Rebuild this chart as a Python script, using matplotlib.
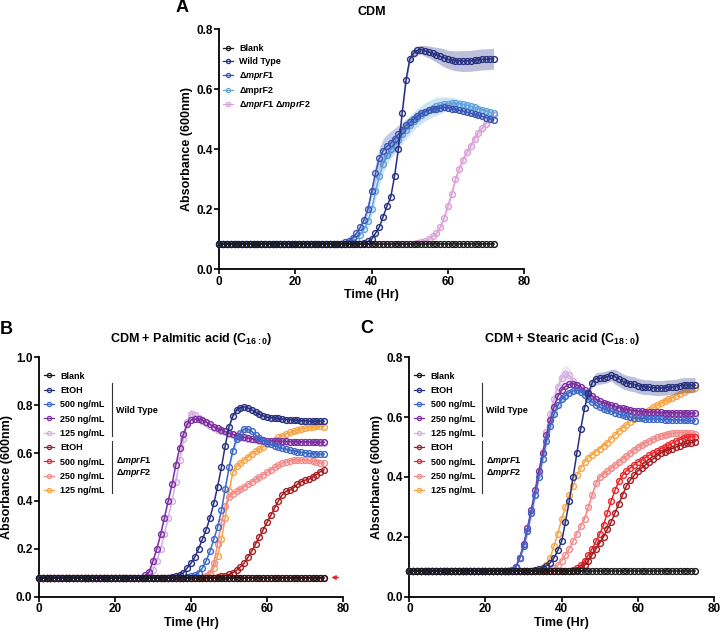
import matplotlib
matplotlib.use("Agg")
import matplotlib.pyplot as plt
from matplotlib.lines import Line2D

plt.rcParams["font.family"] = "Liberation Sans"
plt.rcParams["font.weight"] = "bold"
plt.rcParams["axes.labelweight"] = "bold"
plt.rcParams["axes.titleweight"] = "bold"
plt.rcParams["mathtext.fontset"] = "custom"
plt.rcParams["mathtext.rm"] = "Liberation Sans:bold"
plt.rcParams["mathtext.bf"] = "Liberation Sans:bold"
plt.rcParams["mathtext.it"] = "Liberation Sans:italic:bold"

# ---- data (hourly readings, absorbance at 600 nm) ----

TIME_A = list(range(0, 73))
TIME_BC = list(range(0, 76))

# panel A: CDM
A_LABELS = ["Blank", "Wild Type", "Δ$\\mathit{mprF1}$", "ΔmprF2",
            "Δ$\\mathit{mprF1}$ Δ$\\mathit{mprF2}$"]
A_COLORS = ["#1a1a1a", "#27317f", "#3a55b4", "#5fa3dd", "#d9a1d6"]

A_BLANK = [0.085] * 73
A_WT = [0.085] * 38 + [
    0.088, 0.093, 0.10, 0.12, 0.14, 0.175, 0.21, 0.24, 0.31, 0.40,
    0.52, 0.63, 0.70, 0.72, 0.73, 0.732, 0.728, 0.725, 0.72, 0.715,
    0.71, 0.705, 0.70, 0.697, 0.695, 0.695, 0.694, 0.695, 0.695, 0.697,
    0.698, 0.70, 0.70, 0.701, 0.702]
A_F1 = [0.085] * 33 + [
    0.09, 0.095, 0.105, 0.12, 0.14, 0.165, 0.2, 0.26, 0.32, 0.37,
    0.395, 0.41, 0.42, 0.435, 0.45, 0.465, 0.48, 0.49, 0.50, 0.51,
    0.52, 0.525, 0.53, 0.533, 0.536, 0.538, 0.54, 0.538, 0.536, 0.533,
    0.53, 0.527, 0.524, 0.52, 0.517, 0.513, 0.51, 0.506, 0.502, 0.498]
A_F2 = [0.085] * 35 + [
    0.09, 0.1, 0.115, 0.135, 0.16, 0.2, 0.26, 0.31, 0.35, 0.38,
    0.40, 0.415, 0.43, 0.45, 0.465, 0.48, 0.495, 0.505, 0.515, 0.525,
    0.532, 0.538, 0.543, 0.547, 0.55, 0.552, 0.553, 0.553, 0.552, 0.55,
    0.547, 0.543, 0.54, 0.536, 0.532, 0.528, 0.524, 0.52]
A_DKO = [0.085] * 52 + [
    0.087, 0.09, 0.095, 0.10, 0.11, 0.12, 0.14, 0.17, 0.21, 0.25,
    0.30, 0.335, 0.365, 0.39, 0.41, 0.435, 0.455, 0.47, 0.485, 0.50,
    0.515]

A_BLANK_ERR = [0.0] * 73
A_WT_ERR = [0.0] * 47 + [
    0.005, 0.01, 0.015, 0.015, 0.015, 0.015, 0.015, 0.018, 0.02, 0.022,
    0.025, 0.028, 0.03, 0.03, 0.032, 0.033, 0.034] + [0.035] * 9
A_F1_ERR = [0.003] * 38 + [
    0.01, 0.015, 0.02, 0.03, 0.035, 0.04, 0.04, 0.04, 0.035, 0.03,
    0.025, 0.02, 0.02, 0.015, 0.015, 0.012, 0.01, 0.01, 0.01, 0.01] + [0.008] * 15
A_F2_ERR = [0.003] * 38 + [
    0.01, 0.015, 0.02, 0.025, 0.03, 0.03, 0.03, 0.03, 0.03, 0.03] + [0.03] * 10 + [
    0.028, 0.025, 0.022, 0.02, 0.018, 0.015, 0.012, 0.01, 0.01, 0.01] + [0.008] * 5
A_DKO_ERR = [0.0] * 55 + [0.005, 0.005, 0.008, 0.01, 0.012] + [0.015] * 13

# panels B and C share legend
BC_LABELS = ["Blank", "EtOH", "500 ng/mL", "250 ng/mL", "125 ng/mL",
             "EtOH", "500 ng/mL", "250 ng/mL", "125 ng/mL"]
BC_COLORS = ["#1a1a1a", "#27317f", "#3d68c6", "#7b2f9e", "#d2aee2",
             "#a61e22", "#e8262b", "#f28a8a", "#f7a445"]

# panel B: CDM + palmitic acid
B_BLANK = [0.08] * 76
B_WT_ETOH = [0.08] * 35 + [
    0.083, 0.087, 0.092, 0.10, 0.12, 0.14, 0.165, 0.2, 0.24, 0.28,
    0.33, 0.39, 0.46, 0.54, 0.63, 0.71, 0.755, 0.78, 0.79, 0.793,
    0.788, 0.78, 0.77, 0.762, 0.755, 0.75, 0.748, 0.745, 0.745, 0.742,
    0.74, 0.74, 0.738, 0.737, 0.735, 0.735, 0.733, 0.733, 0.732, 0.733,
    0.733]
B_WT_500 = [0.08] * 39 + [
    0.083, 0.086, 0.09, 0.1, 0.12, 0.15, 0.19, 0.24, 0.29,
    0.36, 0.45, 0.54, 0.61, 0.66, 0.685, 0.70, 0.70, 0.69, 0.675,
    0.662, 0.652, 0.643, 0.636, 0.63, 0.624, 0.62, 0.616, 0.612, 0.609,
    0.606, 0.603, 0.601, 0.599, 0.598, 0.597, 0.596, 0.595]
B_WT_250 = [0.08] * 28 + [
    0.09, 0.105, 0.15, 0.2, 0.26, 0.33, 0.40, 0.47, 0.55, 0.62,
    0.68, 0.72, 0.738, 0.742, 0.742, 0.738, 0.73, 0.72, 0.71, 0.703,
    0.697, 0.69, 0.684, 0.678, 0.673, 0.669, 0.666, 0.663, 0.66, 0.657,
    0.655, 0.653, 0.652, 0.651, 0.65, 0.65, 0.649, 0.649, 0.648, 0.648,
    0.647, 0.647, 0.647, 0.646, 0.646, 0.646, 0.645, 0.645]
B_WT_125 = [0.08] * 29 + [
    0.09, 0.11, 0.15, 0.2, 0.26, 0.33, 0.40, 0.48, 0.57, 0.66,
    0.73, 0.765, 0.76, 0.748, 0.735, 0.725, 0.715, 0.705, 0.698, 0.692,
    0.686, 0.68, 0.675, 0.67, 0.666, 0.663, 0.66, 0.657, 0.654, 0.652,
    0.651, 0.65, 0.649, 0.648, 0.648, 0.647, 0.647, 0.646, 0.646, 0.645,
    0.645, 0.645, 0.644, 0.644, 0.644, 0.643, 0.643]
B_MUT_ETOH = [0.08] * 47 + [
    0.082, 0.085, 0.088, 0.093, 0.1, 0.11, 0.125, 0.14, 0.165, 0.19,
    0.22, 0.25, 0.28, 0.31, 0.34, 0.37, 0.4, 0.425, 0.44, 0.445,
    0.455, 0.47, 0.48, 0.487, 0.49, 0.5, 0.51, 0.522, 0.53]
B_MUT_500 = [0.08] * 76
B_MUT_250 = [0.08] * 44 + [
    0.085, 0.1, 0.14, 0.22, 0.31, 0.38, 0.415, 0.43, 0.44, 0.45,
    0.46, 0.47, 0.48, 0.49, 0.5, 0.51, 0.52, 0.53, 0.54, 0.55,
    0.558, 0.564, 0.568, 0.571, 0.572, 0.572, 0.571, 0.569, 0.566, 0.563,
    0.56, 0.557]
B_MUT_125 = [0.08] * 44 + [
    0.085, 0.095, 0.12, 0.17, 0.24, 0.33, 0.44, 0.52, 0.545, 0.56,
    0.572, 0.585, 0.597, 0.607, 0.617, 0.627, 0.637, 0.647, 0.656, 0.665,
    0.673, 0.68, 0.686, 0.691, 0.696, 0.7, 0.705, 0.709, 0.71, 0.712,
    0.712, 0.71]

B_ERR = [
    [0.0] * 76,
    [0.0] * 50 + [0.008] * 5 + [0.012] * 21,
    [0.0] * 50 + [0.01, 0.015, 0.015, 0.015, 0.012, 0.01] + [0.006] * 20,
    [0.003] * 76,
    [0.0] * 36 + [0.01, 0.015, 0.02, 0.025, 0.025, 0.02, 0.015, 0.01] + [0.005] * 32,
    [0.0] * 76,
    [0.0] * 76,
    [0.0] * 50 + [0.008] * 26,
    [0.0] * 50 + [0.008] * 26,
]

# panel C: CDM + stearic acid
C_BLANK = [0.085] * 76
C_WT_ETOH = [0.085] * 33 + [
    0.088, 0.092, 0.097, 0.103, 0.113, 0.13, 0.155, 0.185, 0.25, 0.32,
    0.40, 0.48, 0.56, 0.63, 0.68, 0.715, 0.728, 0.73, 0.732, 0.735,
    0.74, 0.735, 0.728, 0.72, 0.715, 0.712, 0.71, 0.705, 0.702, 0.70,
    0.70, 0.698, 0.697, 0.697, 0.698, 0.70, 0.70, 0.702, 0.705, 0.707,
    0.707, 0.707, 0.707]
C_WT_500 = [0.085] * 27 + [
    0.09, 0.1, 0.13, 0.17, 0.22, 0.28, 0.34, 0.40, 0.46, 0.52,
    0.57, 0.61, 0.64, 0.66, 0.672, 0.682, 0.688, 0.69, 0.685, 0.675,
    0.66, 0.65, 0.64, 0.633, 0.628, 0.624, 0.62, 0.615, 0.61, 0.606,
    0.603, 0.60, 0.598, 0.597, 0.596, 0.595, 0.594, 0.594, 0.593, 0.593,
    0.592, 0.592, 0.591, 0.591, 0.59, 0.59, 0.589, 0.589, 0.588]
C_WT_250 = [0.085] * 27 + [
    0.09, 0.1, 0.13, 0.175, 0.23, 0.29, 0.355, 0.42, 0.48, 0.54,
    0.59, 0.635, 0.67, 0.69, 0.703, 0.71, 0.712, 0.708, 0.70, 0.69,
    0.68, 0.67, 0.66, 0.653, 0.648, 0.644, 0.64, 0.636, 0.632, 0.629,
    0.626, 0.624, 0.622, 0.62, 0.619, 0.618, 0.617, 0.617, 0.616, 0.616,
    0.615, 0.615, 0.615, 0.614, 0.614, 0.614, 0.613, 0.613, 0.613]
C_WT_125 = [0.085] * 27 + [
    0.09, 0.1, 0.13, 0.17, 0.22, 0.28, 0.34, 0.41, 0.48, 0.55,
    0.61, 0.66, 0.70, 0.73, 0.745, 0.74, 0.72, 0.705, 0.695, 0.685,
    0.675, 0.665, 0.655, 0.648, 0.643, 0.639, 0.635, 0.631, 0.627, 0.624,
    0.621, 0.619, 0.617, 0.615, 0.614, 0.613, 0.612, 0.612, 0.611, 0.611,
    0.61, 0.61, 0.61, 0.609, 0.609, 0.609, 0.608, 0.608, 0.608]
C_MUT_ETOH = [0.085] * 43 + [
    0.087, 0.09, 0.095, 0.105, 0.12, 0.14, 0.16, 0.18, 0.2, 0.225,
    0.25, 0.28, 0.31, 0.34, 0.37, 0.39, 0.405, 0.42, 0.43, 0.44,
    0.45, 0.46, 0.47, 0.48, 0.485, 0.49, 0.495, 0.5, 0.505, 0.51,
    0.512, 0.515, 0.518]
C_MUT_500 = [0.085] * 42 + [
    0.087, 0.09, 0.095, 0.105, 0.12, 0.14, 0.16, 0.185, 0.21, 0.24,
    0.28, 0.32, 0.355, 0.385, 0.405, 0.42, 0.43, 0.44, 0.45, 0.457,
    0.465, 0.473, 0.48, 0.487, 0.495, 0.5, 0.507, 0.513, 0.52, 0.525,
    0.53, 0.533, 0.535, 0.535]
C_MUT_250 = [0.085] * 37 + [
    0.088, 0.095, 0.105, 0.12, 0.14, 0.16, 0.185, 0.21, 0.235, 0.26,
    0.3, 0.34, 0.38, 0.40, 0.41, 0.42, 0.43, 0.44, 0.45, 0.46,
    0.47, 0.48, 0.49, 0.5, 0.507, 0.514, 0.52, 0.526, 0.532, 0.537,
    0.541, 0.544, 0.546, 0.547, 0.547, 0.547, 0.546, 0.546, 0.545]
C_MUT_125 = [0.085] * 34 + [
    0.088, 0.093, 0.105, 0.13, 0.17, 0.21, 0.26, 0.3, 0.34, 0.37,
    0.405, 0.43, 0.45, 0.465, 0.475, 0.485, 0.495, 0.505, 0.515, 0.528,
    0.54, 0.553, 0.565, 0.575, 0.585, 0.595, 0.603, 0.61, 0.618, 0.625,
    0.633, 0.64, 0.647, 0.655, 0.66, 0.665, 0.672, 0.678, 0.684, 0.69,
    0.695, 0.698]

C_ERR = [
    [0.0] * 76,
    [0.0] * 47 + [0.01, 0.015, 0.02, 0.02, 0.02, 0.02, 0.02] + [0.025] * 22,
    [0.0] * 30 + [0.015] * 12 + [0.01] * 6 + [0.005] * 28,
    [0.003] * 76,
    [0.0] * 30 + [0.02] * 6 + [0.025, 0.03, 0.03, 0.03, 0.03, 0.03, 0.025, 0.02] + [0.005] * 32,
    [0.0] * 76,
    [0.0] * 76,
    [0.0] * 47 + [0.012] * 29,
    [0.0] * 60 + [0.008] * 16,
]


def style_axis(ax, ymax):
    for side in ("top", "right"):
        ax.spines[side].set_visible(False)
    for side in ("left", "bottom"):
        ax.spines[side].set_linewidth(1.3)
    ax.set_xlim(0, 80)
    ax.set_ylim(0, ymax)
    ax.set_xticks([0, 20, 40, 60, 80])
    ax.set_yticks([round(0.2 * i, 1) for i in range(int(round(ymax / 0.2)) + 1)])
    ax.yaxis.set_major_formatter(matplotlib.ticker.FormatStrFormatter("%.1f"))
    ax.tick_params(direction="out", length=3.5, width=1.2, labelsize=8.5, pad=1.2)
    ax.set_xlabel("Time (Hr)", fontsize=9, labelpad=1)
    ax.set_ylabel("Absorbance (600nm)", fontsize=9, labelpad=2.5)


def draw_curves(ax, time, series, errors, colors):
    n = len(series)
    # first series ends up on top, like the original software
    for i in reversed(range(n)):
        y, e, c = series[i], errors[i], colors[i]
        lo = [a - b for a, b in zip(y, e)]
        hi = [a + b for a, b in zip(y, e)]
        ax.fill_between(time, lo, hi, color=c, alpha=0.3, linewidth=0, zorder=2 * (n - i))
        ax.plot(time, y, color=c, lw=1.1, marker="o", ms=4.2, mfc="none", mew=1.0,
                zorder=2 * (n - i) + 1, clip_on=False)


def make_handles(labels, colors):
    return [Line2D([], [], color=c, lw=0.9, marker="o", ms=3.0, mfc="none", mew=0.9, label=l)
            for l, c in zip(labels, colors)]


def group_labels(ax, x_line, x_text):
    ax.plot([x_line, x_line], [0.894, 0.671], color="#333333", lw=0.8, transform=ax.transAxes)
    ax.plot([x_line, x_line], [0.652, 0.432], color="#333333", lw=0.8, transform=ax.transAxes)
    ax.text(x_text, 0.777, "Wild Type", transform=ax.transAxes, fontsize=6.5, va="center")
    ax.text(x_text, 0.567, "Δ$\\mathit{mprF1}$", transform=ax.transAxes, fontsize=6.5, va="center")
    ax.text(x_text, 0.518, "Δ$\\mathit{mprF2}$", transform=ax.transAxes, fontsize=6.5, va="center")


fig = plt.figure(figsize=(7.2, 6.31), dpi=100)

axA = fig.add_axes([0.3046, 0.5732, 0.4232, 0.3803])
axB = fig.add_axes([0.0542, 0.0544, 0.4222, 0.3794])
axC = fig.add_axes([0.5685, 0.0544, 0.4232, 0.3794])

# A
draw_curves(axA, TIME_A, [A_BLANK, A_WT, A_F1, A_F2, A_DKO],
            [A_BLANK_ERR, A_WT_ERR, A_F1_ERR, A_F2_ERR, A_DKO_ERR], A_COLORS)
style_axis(axA, 0.8)
axA.set_title("CDM", fontsize=9, pad=10)
axA.legend(handles=make_handles(A_LABELS, A_COLORS), loc="upper left",
           bbox_to_anchor=(0.0, 0.955), frameon=False, fontsize=6.5,
           handlelength=1.1, handletextpad=0.7, labelspacing=0.45, borderaxespad=0)

# B
draw_curves(axB, TIME_BC,
            [B_BLANK, B_WT_ETOH, B_WT_500, B_WT_250, B_WT_125,
             B_MUT_ETOH, B_MUT_500, B_MUT_250, B_MUT_125], B_ERR, BC_COLORS)
style_axis(axB, 1.0)
axB.set_title("CDM + Palmitic acid (C$_{16{:}0}$)", fontsize=9, pad=11)
axB.legend(handles=make_handles(BC_LABELS, BC_COLORS), loc="upper left",
           bbox_to_anchor=(0.005, 0.955), frameon=False, fontsize=6.5,
           handlelength=1.1, handletextpad=0.7, labelspacing=0.59, borderaxespad=0)
group_labels(axB, 0.239, 0.253)
axB.annotate("", xy=(76.2, 0.08), xytext=(79.5, 0.08),
             arrowprops=dict(arrowstyle="-|>", color="#e8262b", lw=1.0,
                             mutation_scale=6), annotation_clip=False)

# C
draw_curves(axC, TIME_BC,
            [C_BLANK, C_WT_ETOH, C_WT_500, C_WT_250, C_WT_125,
             C_MUT_ETOH, C_MUT_500, C_MUT_250, C_MUT_125], C_ERR, BC_COLORS)
style_axis(axC, 0.8)
axC.set_title("CDM + Stearic acid (C$_{18{:}0}$)", fontsize=9, pad=11)
axC.legend(handles=make_handles(BC_LABELS, BC_COLORS), loc="upper left",
           bbox_to_anchor=(0.005, 0.955), frameon=False, fontsize=6.5,
           handlelength=1.1, handletextpad=0.7, labelspacing=0.59, borderaxespad=0)
group_labels(axC, 0.239, 0.252)

fig.text(182 / 720, 1 - 7.5 / 631, "A", fontsize=13, ha="center", va="center")
fig.text(6.5 / 720, 1 - 330 / 631, "B", fontsize=13, ha="center", va="center")
fig.text(367 / 720, 1 - 329 / 631, "C", fontsize=13, ha="center", va="center")

fig.savefig("out.png", dpi=100)
